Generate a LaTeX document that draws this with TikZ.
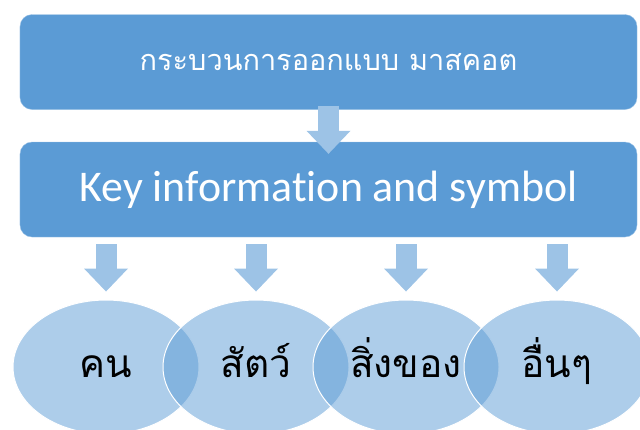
\documentclass[tikz,border=0pt]{standalone}
\usepackage{fontspec}
\usepackage{tikz}
\usetikzlibrary{shapes.geometric,arrows.meta,positioning}
\usepackage{xcolor}
\newfontfamily\thaifont[Script=Thai]{Loma}
\newfontfamily\keyfont[Ligatures=NoCommon]{Carlito}
\definecolor{BoxBlue}{RGB}{91,155,213}
\definecolor{ArrBlue}{RGB}{157,195,230}

\begin{document}
\begin{tikzpicture}[x=1bp,y=-1bp,
  bx/.style={draw=ArrBlue,fill=BoxBlue,rounded corners=12bp,
             minimum width=617bp,minimum height=95bp,inner sep=0pt,text=white},
  ovl/.style={ellipse,draw=white,line width=1pt,fill=BoxBlue,fill opacity=0.5,text opacity=1,
              minimum width=186bp,minimum height=134bp,inner sep=0pt,
              text height=20bp,text depth=0pt,
              font=\thaifont\fontsize{39}{46}\selectfont},
  dn/.style={ArrBlue,line width=21bp,-{Triangle[length=23bp,width=44bp,line width=0pt]}},
]
\clip (0,0) rectangle (640,429);
\node[bx,font=\thaifont\fontsize{29}{35}\selectfont] (proc) at (328.5,62) {กระบวนการออกแบบ มาสคอต};
\node[bx,font=\keyfont\fontsize{44}{52}\selectfont] (key) at (328.5,189.5) {Key information and symbol};
\node[ovl] (kon) at (106,367) {คน};
\node[ovl] (sat) at (256,367) {สัตว์};
\node[ovl] (sing) at (406,367) {สิ่งของ};
\node[ovl] (uen) at (557,367) {อื่นๆ};
\draw[dn] ([yshift=4bp]proc.south) -- ([yshift=-12bp]key.north);
\foreach \e in {kon,sat,sing,uen}
  \draw[dn] ([yshift=-7bp]key.south -| \e.north) -- ([yshift=8bp]\e.north);
\end{tikzpicture}
\end{document}
